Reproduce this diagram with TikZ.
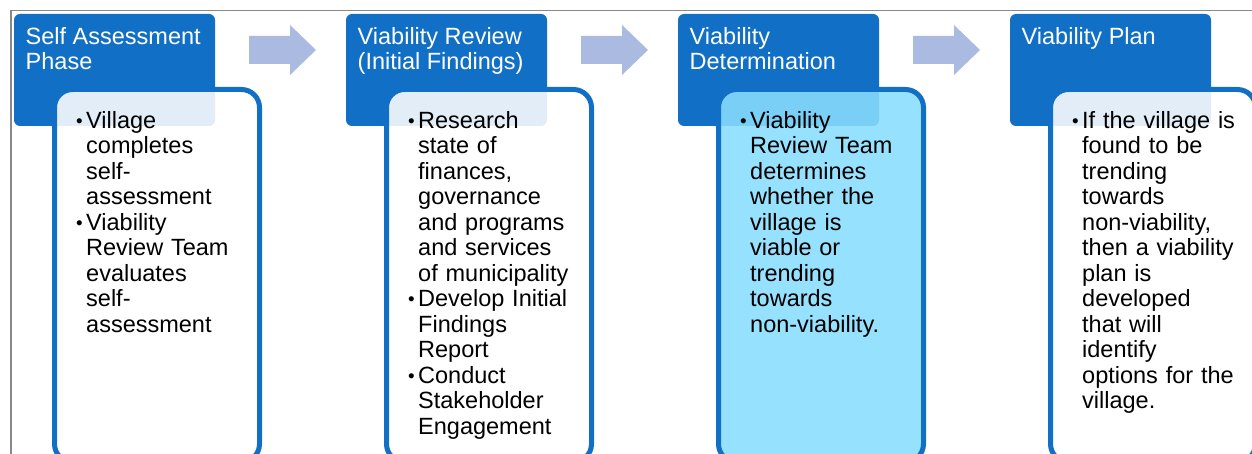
\documentclass[tikz,border=0pt]{standalone}
\usepackage{fontspec}
\setmainfont{Liberation Sans}
\usepackage{xcolor}
\usepackage{graphicx}
\usepackage{tikz}

\definecolor{phaseblue}{RGB}{17,112,198}
\definecolor{arrowblue}{RGB}{170,186,224}
\definecolor{framegray}{RGB}{136,136,136}
\definecolor{cardcyan}{RGB}{136,221,253}

\newcommand{\itembul}{\leavevmode\llap{\raisebox{1pt}{\scalebox{0.8}{\textbullet}}\hspace{3.5pt}}}

\tikzset{
	phase/.style={fill=phaseblue, rounded corners=6pt, minimum width=201pt, minimum height=112pt, inner sep=0pt, outer sep=0pt, anchor=north west},
	card/.style={draw=phaseblue, line width=5pt, fill=white, fill opacity=0.88, rounded corners=18pt, minimum width=205pt, minimum height=372.5pt, inner sep=0pt, outer sep=0pt, anchor=north west},
	phasetext/.style={text=white, inner sep=0pt, anchor=north west, align=left, font=\fontsize{23.5}{25.5}\selectfont},
	cardtext/.style={text=black, inner sep=0pt, anchor=north west, text width=220pt, align=left, font=\fontsize{23.5}{25.5}\selectfont},
	flowarrow/.style={fill=arrowblue}
}

\begin{document}
\begin{tikzpicture}[x=1pt,y=-1pt]
	\useasboundingbox (0,0) rectangle (1252,454);
	\clip (0,0) rectangle (1252,454);
	% frame of the slide
	\draw[framegray, line width=1.5pt] (11,460) -- (11,10.7) -- (1260,10.7);
	% phases
	\node[phase] (p1) at (14,14) {};
	\node[phase] (p2) at (346,14) {};
	\node[phase] (p3) at (678,14) {};
	\node[phase] (p4) at (1010,14) {};
	\node[phasetext] (p1text) at ([xshift=11.5pt,yshift=-12.15pt]p1.north west) {\strut Self Assessment\\Phase};
	\node[phasetext] (p2text) at ([xshift=11.5pt,yshift=-12.15pt]p2.north west) {\strut Viability Review\\(Initial Findings)};
	\node[phasetext] (p3text) at ([xshift=11.5pt,yshift=-12.15pt]p3.north west) {\strut Viability\\Determination};
	\node[phasetext] (p4text) at ([xshift=11.5pt,yshift=-12.15pt]p4.north west) {\strut Viability Plan};
	% arrows between phases
	\fill[flowarrow] (249,36) -- (290,36) -- (290,25) -- (316,50) -- (290,75) -- (290,64) -- (249,64) -- cycle;
	\fill[flowarrow] (581,36) -- (622,36) -- (622,25) -- (648,50) -- (622,75) -- (622,64) -- (581,64) -- cycle;
	\fill[flowarrow] (913,36) -- (954,36) -- (954,25) -- (980,50) -- (954,75) -- (954,64) -- (913,64) -- cycle;
	% cards
	\node[card] (c1) at (54.5,89.5) {};
	\node[card] (c2) at (386.5,89.5) {};
	\node[card, fill=cardcyan, fill opacity=0.88] (c3) at (718.5,89.5) {};
	\node[card] (c4) at (1050.5,89.5) {};
	\node[cardtext] (c1text) at ([xshift=31.5pt,yshift=-20.65pt]c1.north west) {\strut\itembul Village\\completes\\self-\\assessment\\\itembul Viability\\Review Team\\evaluates\\self-\\assessment};
	\node[cardtext] (c2text) at ([xshift=31.5pt,yshift=-20.65pt]c2.north west) {\strut\itembul Research\\state of\\finances,\\governance\\and programs\\and services\\of municipality\\\itembul Develop Initial\\Findings\\Report\\\itembul Conduct\\Stakeholder\\Engagement};
	\node[cardtext] (c3text) at ([xshift=31.5pt,yshift=-20.65pt]c3.north west) {\strut\itembul Viability\\Review Team\\determines\\whether the\\village is\\viable or\\trending\\towards\\non-viability.};
	\node[cardtext] (c4text) at ([xshift=31.5pt,yshift=-20.65pt]c4.north west) {\strut\itembul If the village is\\found to be\\trending\\towards\\non-viability,\\then a viability\\plan is\\developed\\that will\\identify\\options for the\\village.};
\end{tikzpicture}
\end{document}
